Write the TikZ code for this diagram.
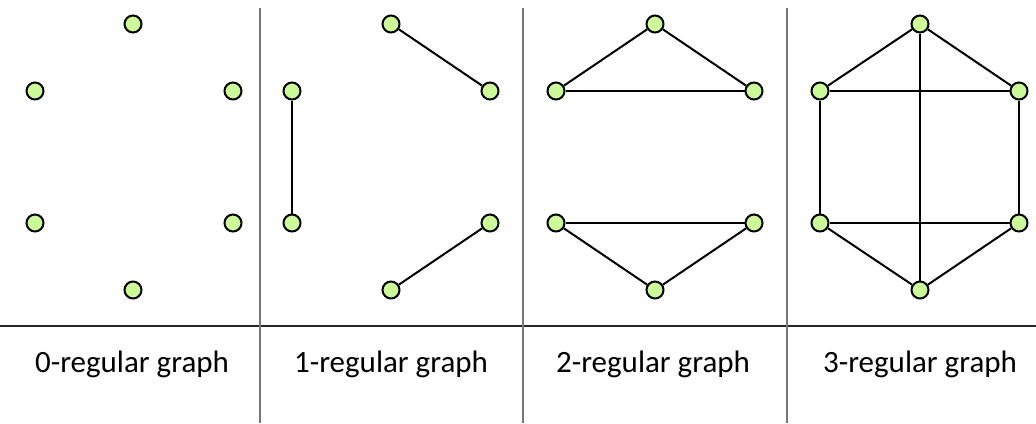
\documentclass[tikz,border=0pt]{standalone}
\usepackage{fontspec}
\setmainfont{Carlito}
\definecolor{nodegreen}{RGB}{204,250,153}
\definecolor{sepgray}{RGB}{120,120,120}
\tikzset{
  v/.style={circle,draw=black,line width=2pt,fill=nodegreen,minimum size=17pt,inner sep=0pt},
  e/.style={line width=2pt,black},
  lbl/.style={font=\fontsize{31}{36}\selectfont,anchor=base}
}
\begin{document}
\begin{tikzpicture}[x=1pt,y=-1pt]
\useasboundingbox (0,0) rectangle (1036,423);
% separators
\coordinate (h1) at (0,326); \coordinate (h2) at (1036,326);
\draw[line width=1.3pt,black!85] (h1) -- (h2);
\foreach \x/\n in {260/a,523/b,787/c}{
  \coordinate (s\n t) at (\x,8); \coordinate (s\n b) at (\x,423);
  \draw[line width=1.2pt,sepgray] (s\n t) -- (s\n b);
}
% panel 1
\node[v] (a1) at (133,24) {};
\node[v] (a2) at (35,91) {};
\node[v] (a3) at (233,91) {};
\node[v] (a4) at (35,223) {};
\node[v] (a5) at (233,223) {};
\node[v] (a6) at (133,290) {};
% panel 2
\node[v] (b1) at (391,24) {};
\node[v] (b2) at (292,91) {};
\node[v] (b3) at (490,91) {};
\node[v] (b4) at (292,223) {};
\node[v] (b5) at (490,223) {};
\node[v] (b6) at (391,290) {};
% panel 3
\node[v] (c1) at (655,24) {};
\node[v] (c2) at (556,91) {};
\node[v] (c3) at (754,91) {};
\node[v] (c4) at (556,223) {};
\node[v] (c5) at (754,223) {};
\node[v] (c6) at (655,290) {};
% panel 4
\node[v] (d1) at (920,24) {};
\node[v] (d2) at (820,91) {};
\node[v] (d3) at (1019,91) {};
\node[v] (d4) at (820,223) {};
\node[v] (d5) at (1019,223) {};
\node[v] (d6) at (920,290) {};
% edges
\draw[e] (b1) -- (b3);
\draw[e] (b2) -- (b4);
\draw[e] (b5) -- (b6);
\draw[e] (c1) -- (c2); \draw[e] (c1) -- (c3); \draw[e] (c2) -- (c3);
\draw[e] (c4) -- (c5); \draw[e] (c4) -- (c6); \draw[e] (c5) -- (c6);
\draw[e] (d1) -- (d2); \draw[e] (d1) -- (d3); \draw[e] (d1) -- (d6);
\draw[e] (d2) -- (d3); \draw[e] (d2) -- (d4); \draw[e] (d3) -- (d5);
\draw[e] (d4) -- (d5); \draw[e] (d4) -- (d6); \draw[e] (d5) -- (d6);
% labels
\node[lbl] (la) at (132,372) {0-regular graph};
\node[lbl] (lb) at (391,372) {1-regular graph};
\node[lbl] (lc) at (653,372) {2-regular graph};
\node[lbl] (ld) at (920,372) {3-regular graph};
\end{tikzpicture}
\end{document}
